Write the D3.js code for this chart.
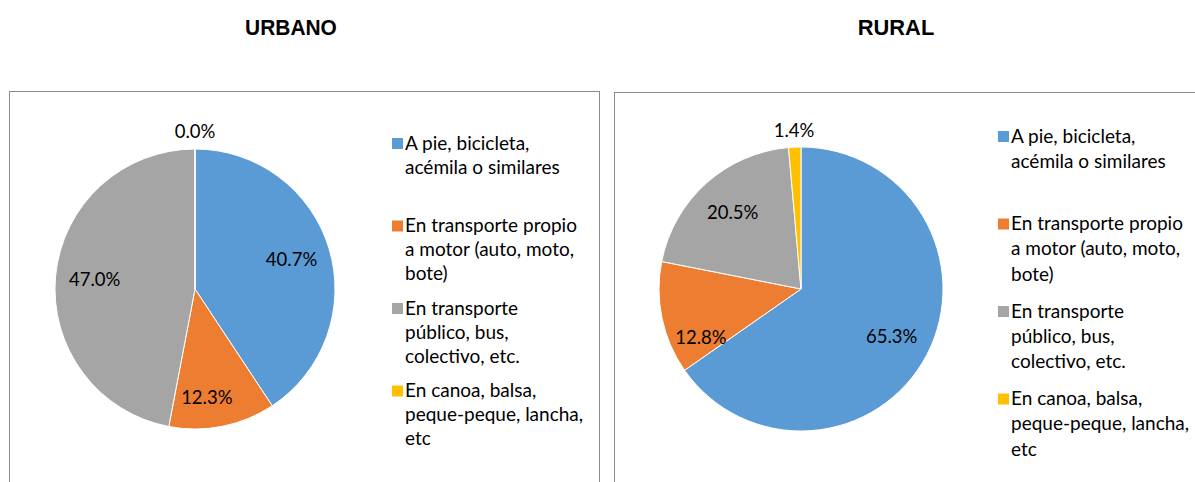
<!DOCTYPE html>
<html>
<head>
<meta charset="utf-8">
<script src="https://cdn.jsdelivr.net/npm/d3@7"></script>
<style>
  body { margin: 0; background: #fff; }
  svg { display: block; }
</style>
</head>
<body>
<div id="chart"></div>
<script>
// categories and values
const categories = [
  ['A pie, bicicleta,', 'acémila o similares'],
  ['En transporte propio', 'a motor (auto, moto,', 'bote)'],
  ['En transporte', 'público, bus,', 'colectivo, etc.'],
  ['En canoa, balsa,', 'peque-peque, lancha,', 'etc']
];
const urbano = [40.7, 12.3, 47.0, 0.0];
const rural = [65.3, 12.8, 20.5, 1.4];
const titles = ['URBANO', 'RURAL'];

const colors = ['#5b9bd5', '#ed7d31', '#a5a5a5', '#ffc000'];

const width = 1195, height = 482;
const svg = d3.select('#chart').append('svg')
  .attr('width', width)
  .attr('height', height);

const panels = [
  { values: urbano, title: titles[0], titleX: 291, box: [9, 91, 590], cx: 195, cy: 289, r: 140,
    legendX: 392, legendY: 143, itemGap: 82.5, lineGap: 24, shift: [[0, 0], [-8, 10], [0, 0], [0, 0]] },
  { values: rural, title: titles[1], titleX: 896, box: [614, 92, 600], cx: 801, cy: 289, r: 142,
    legendX: 998, legendY: 136, itemGap: 87.5, lineGap: 25.3, shift: [[0, 0], [0, 27], [0, 0], [0, 0]] }
];

const pie = d3.pie().sort(null).value(d => d);

panels.forEach(p => {
  svg.append('text')
    .attr('x', p.titleX)
    .attr('y', 35)
    .attr('text-anchor', 'middle')
    .attr('font-family', 'Liberation Sans Narrow, Liberation Sans, Arial, sans-serif')
    .attr('font-weight', 'bold')
    .attr('font-size', 22)
    .attr('textLength', p.title.length * 15.3)
    .attr('lengthAdjust', 'spacingAndGlyphs')
    .text(p.title);

  svg.append('rect')
    .attr('x', p.box[0] + 0.5)
    .attr('y', p.box[1] + 0.5)
    .attr('width', p.box[2])
    .attr('height', 420)
    .attr('fill', 'none')
    .attr('stroke', '#8c8c8c')
    .attr('stroke-width', 1);

  const g = svg.append('g')
    .attr('transform', `translate(${p.cx}, ${p.cy})`);

  const arcs = pie(p.values);
  const arc = d3.arc().innerRadius(0).outerRadius(p.r);
  const labelArc = d3.arc().innerRadius(p.r * 0.72).outerRadius(p.r * 0.72);
  const outerArc = d3.arc().innerRadius(p.r + 17).outerRadius(p.r + 17);

  g.selectAll('path')
    .data(arcs).enter()
    .append('path')
    .attr('d', arc)
    .attr('fill', (d, i) => colors[i])
    .attr('stroke', '#fff')
    .attr('stroke-width', 1);

  g.selectAll('text.lbl')
    .data(arcs).enter()
    .append('text')
    .attr('class', 'lbl')
    .attr('transform', (d, i) => {
      const c = d.data < 5 ? outerArc.centroid(d) : labelArc.centroid(d);
      return `translate(${c[0] + p.shift[i][0]}, ${c[1] + p.shift[i][1]})`;
    })
    .attr('text-anchor', 'middle')
    .attr('dy', '0.35em')
    .attr('font-family', 'Lato, Open Sans, sans-serif')
    .attr('font-size', 18.5)
    .attr('fill', '#000')
    .text(d => d.data.toFixed(1) + '%');

  const legend = svg.append('g')
    .attr('transform', `translate(${p.legendX}, ${p.legendY})`);

  const item = legend.selectAll('g')
    .data(categories).enter()
    .append('g')
    .attr('transform', (d, i) => `translate(0, ${i * p.itemGap})`);

  item.append('rect')
    .attr('x', 0)
    .attr('y', -5)
    .attr('width', 11)
    .attr('height', 11)
    .attr('fill', (d, i) => colors[i]);

  item.append('text')
    .attr('x', 13)
    .attr('y', 0)
    .attr('font-family', 'Lato, Open Sans, sans-serif')
    .attr('font-size', 19)
    .attr('fill', '#000')
    .selectAll('tspan')
    .data(d => d).enter()
    .append('tspan')
    .attr('x', 13)
    .attr('y', (d, j) => j * p.lineGap)
    .attr('dy', '0.35em')
    .text(d => d);
});
</script>
</body>
</html>
